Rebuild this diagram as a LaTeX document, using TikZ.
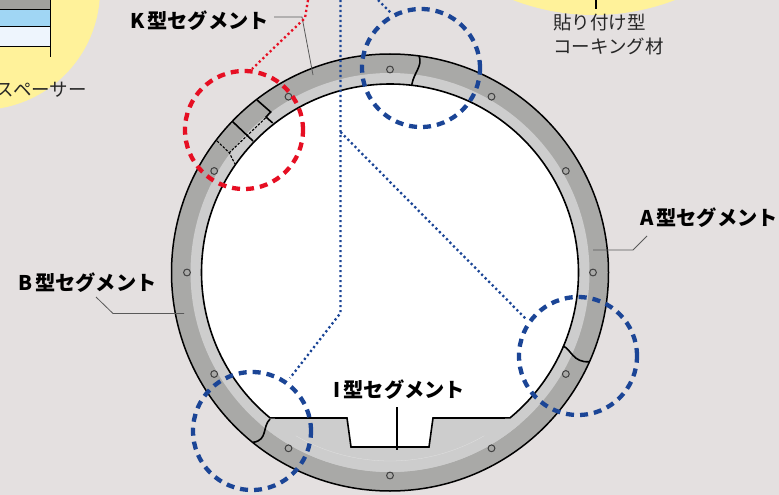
\documentclass[tikz,border=0pt]{standalone}
\usepackage{fontspec}
\setmainfont{Noto Sans CJK JP}
\definecolor{bgc}{HTML}{E4E0E0}
\definecolor{ringdark}{HTML}{A9A9A7}
\definecolor{ringlight}{HTML}{CDCDCD}
\definecolor{yell}{HTML}{FFF29A}
\definecolor{navy}{HTML}{1B4596}
\definecolor{redc}{HTML}{E60F23}
\definecolor{tblgray}{HTML}{A0A09E}
\definecolor{tblblue}{HTML}{A0D6F4}
\definecolor{tblpale}{HTML}{EEF5FD}
\tikzset{
  detail/.style={draw=#1,line width=4.3pt,dash pattern=on 8pt off 6pt},
  dotline/.style={draw=#1,line width=2.3pt,dash pattern=on 2.2pt off 2.8pt},
  leader/.style={draw=black!65,line width=0.8pt},
  bolt/.style={draw=black!75,line width=1pt,fill=ringdark},
  joint/.style={draw=black,line width=1.6pt},
  fine/.style={draw=black,line width=1.1pt,dash pattern=on 2.5pt off 1.5pt},
  seglabel/.style={font=\bfseries\fontsize{20.2}{22}\selectfont,text=black,inner sep=0pt,anchor=west},
  plainlabel/.style={font=\fontsize{18.5}{24}\selectfont,text=black!85,inner sep=0pt,anchor=west,align=left}
}
\begin{document}
\begin{tikzpicture}[x=1pt,y=-1pt]
\useasboundingbox (0,0) rectangle (779,495);
\fill[bgc] (0,0) rectangle (779,495);
\begin{scope}
\clip (0,0) rectangle (779,495);
\fill[yell] (-20,-10) circle[radius=120];
\fill[yell] (594,-211) circle[radius=226];
% table fragment
\fill[tblgray] (0,0) rectangle (50,10);
\fill[tblblue] (0,10) rectangle (50,27);
\fill[tblpale] (0,27) rectangle (50,47);
\draw[line width=1pt] (0,10) -- (50,10) (0,27) -- (50,27) (0,47) -- (50,47) (50,0) -- (50,57);
\draw[line width=1.2pt] (596,0) -- (596,9);
\node[plainlabel,anchor=east] (sp) at (87,90) {スペーサー};
\end{scope}
\node[plainlabel] (cq) at (553,34) {貼り付け型\\コーキング材};
% ring
\coordinate (C) at (390,272.5);
\fill[ringdark] (C) circle[radius=218.5];
\fill[ringlight] (C) circle[radius=199.5];
\fill[white] (C) circle[radius=188.5];
% I segment
\begin{scope}
\clip (C) circle[radius=199.5];
\fill[ringlight] (260,418) -- (347,418) -- (351,447) -- (429,447) -- (433,418) -- (520,418) -- (520,495) -- (260,495) -- cycle;
\end{scope}
\draw[white,line width=0.3pt,opacity=.4] (C) ++(60:188.5) arc[start angle=60,end angle=120,radius=188.5];
\draw[line width=1.5pt] (C) circle[radius=218.5];
\draw[line width=1.6pt] (C) ++(129.5:188.5) arc[start angle=129.5,end angle=410.5,radius=188.5]
   -- (433,418) -- (429,447) -- (351,447) -- (347,418) -- cycle;
% bolts
\foreach \a in {0,30,...,330} { \draw[bolt] (C) ++(\a:203) circle[radius=3.4]; }
% joints
\draw[joint] (419,55.7) .. controls (423,66) and (414,72) .. (411.7,85);
\draw[joint] (563,346) .. controls (571,349) and (573,363) .. (589.3,361.7);
\draw[joint] (270,419) .. controls (262,427) and (268,440) .. (253.3,442.3);
% K segment
\draw[joint] (257,100) -- (270.7,112) -- (266,117) -- (272.7,123);
\draw[joint] (232.7,121.7) -- (253,141);
\draw[fine] (265.5,118) -- (229.3,152.7);
\draw[fine] (217,141) -- (229.3,152.7) -- (235,164);
% leaders
\draw[leader] (274,17) -- (302,17) -- (313,75);
\draw[leader] (647,236) -- (633,250) -- (593,250);
\draw[leader] (96,297) -- (113,313.5) -- (184,313.5);
\draw[line width=1.2pt] (397,407) -- (397,450);
% dotted connectors
\draw[dotline=redc] (308,0) -- (305,18) -- (252,69);
\draw[dotline=navy] (340.5,0) -- (340.5,313) -- (290,378);
\draw[dotline=navy] (340.5,132) -- (527,320);
\draw[dotline=navy] (378,0) -- (391,13);
% detail circles
\node[circle,detail=redc,minimum size=118pt,inner sep=0pt] (dk) at (244,130) {};
\node[circle,detail=navy,minimum size=118pt,inner sep=0pt] (dt) at (421,68) {};
\node[circle,detail=navy,minimum size=118pt,inner sep=0pt] (dr) at (578,356) {};
\node[circle,detail=navy,minimum size=118pt,inner sep=0pt] (db) at (252,431) {};
% labels
\node[seglabel] (lk) at (130,21) {K\hspace{3pt}型セグメント};
\node[seglabel] (la) at (640,218) {A\hspace{3pt}型セグメント};
\node[seglabel] (lb) at (18,283) {B\hspace{3pt}型セグメント};
\node[seglabel] (li) at (333,390) {I\hspace{3.5pt}型セグメント};
\end{tikzpicture}
\end{document}
